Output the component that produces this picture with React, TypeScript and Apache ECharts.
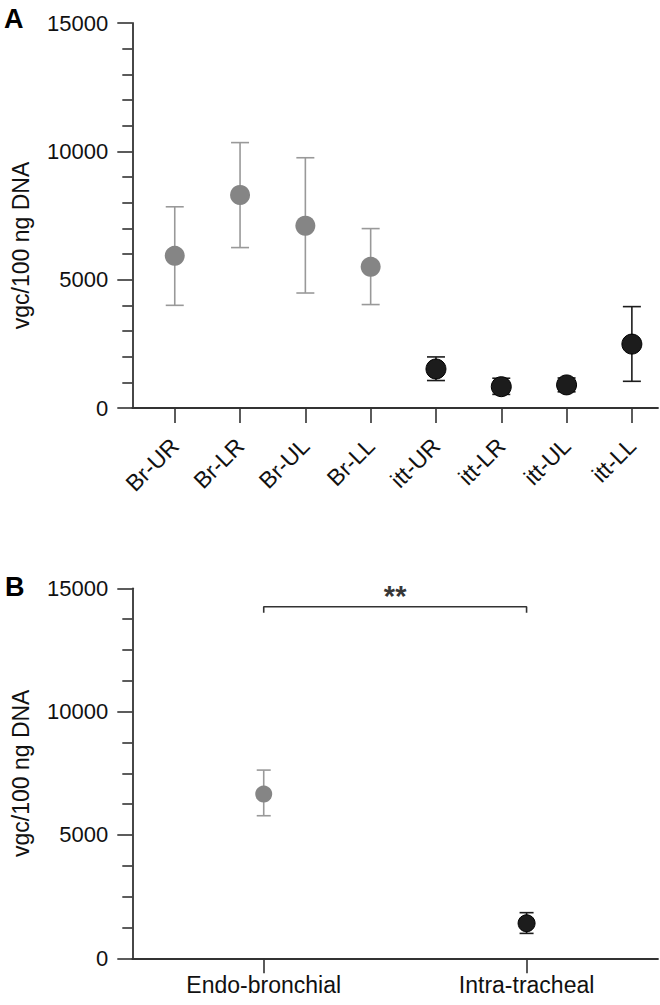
import React, { useEffect, useRef } from "react";
import * as echarts from "echarts";

// ---- Panel A data ----
const catsA = ["Br-UR", "Br-LR", "Br-UL", "Br-LL", "itt-UR", "itt-LR", "itt-UL", "itt-LL"];
const meanA = [5930, 8300, 7100, 5500, 1520, 830, 900, 2490];
const upperA = [7840, 10340, 9750, 6990, 1990, 1160, 1170, 3950];
const lowerA = [4000, 6250, 4480, 4030, 1070, 530, 630, 1040];
const groupA = [0, 0, 0, 0, 1, 1, 1, 1]; // 0 = endo-bronchial (grey), 1 = intra-tracheal (black)

// ---- Panel B data ----
const catsB = ["Endo-bronchial", "Intra-tracheal"];
const meanB = [6660, 1420];
const upperB = [7630, 1850];
const lowerB = [5780, 1010];
const groupB = [0, 1];

// significance bracket (panel B)
const bracketTop = 14250;
const bracketFoot = 14010;
const starsY = 14670;
const starsText = "**";

const yTicksMajor = [0, 5000, 10000, 15000];

const FONT = "'Liberation Sans', Arial, Helvetica, sans-serif";
const TXT = "#111111";
const AXIS = "#333333";
const markerFill = ["#858585", "#1c1c1c"];
const markerBorder = ["#858585", "#000000"];
const barColor = ["#999999", "#1c1c1c"];

function errSeries(gridIdx: number, xs: number[], lo: number[], hi: number[], groups: number[], capW: number) {
  return {
    type: "custom",
    xAxisIndex: gridIdx,
    yAxisIndex: gridIdx,
    z: 2,
    data: xs.map((x, i) => [x, hi[i], lo[i], groups[i]]),
    renderItem: (params: any, api: any) => {
      const x = api.value(0);
      const h = api.value(1);
      const l = api.value(2);
      const g = api.value(3);
      const pH = api.coord([x, h]);
      const pL = api.coord([x, l]);
      const hw = capW / 2;
      const style = { stroke: barColor[g], lineWidth: 1.6 };
      return {
        type: "group",
        children: [
          { type: "line", shape: { x1: pH[0], y1: pH[1], x2: pL[0], y2: pL[1] }, style },
          { type: "line", shape: { x1: pH[0] - hw, y1: pH[1], x2: pH[0] + hw, y2: pH[1] }, style },
          { type: "line", shape: { x1: pL[0] - hw, y1: pL[1], x2: pL[0] + hw, y2: pL[1] }, style },
        ],
      };
    },
  };
}

function pointSeries(gridIdx: number, xs: number[], ys: number[], groups: number[], size: number) {
  return {
    type: "scatter",
    xAxisIndex: gridIdx,
    yAxisIndex: gridIdx,
    z: 3,
    symbol: "circle",
    symbolSize: size,
    data: xs.map((x, i) => ({
      value: [x, ys[i]],
      itemStyle: {
        color: markerFill[groups[i]],
        borderColor: markerBorder[groups[i]],
        borderWidth: groups[i] ? 1 : 0,
        opacity: 1,
      },
    })),
  };
}

function yAxisCfg(gridIdx: number, minorSplit: number, namePad: number[]) {
  return {
    type: "value",
    gridIndex: gridIdx,
    min: 0,
    max: 15000,
    interval: 5000,
    name: "vgc/100 ng DNA",
    nameLocation: "middle",
    nameGap: 100,
    nameTextStyle: { fontFamily: FONT, fontSize: 23, color: TXT, padding: namePad },
    axisLine: { show: true, lineStyle: { color: AXIS, width: 1.8 } },
    axisTick: { show: true, length: 15, lineStyle: { color: AXIS, width: 1.6 } },
    minorTick: { show: true, splitNumber: minorSplit, length: 10, lineStyle: { color: AXIS, width: 1.6 } },
    splitLine: { show: false },
    minorSplitLine: { show: false },
    axisLabel: {
      fontFamily: FONT,
      fontSize: 22,
      color: TXT,
      margin: 24,
      customValues: yTicksMajor,
      formatter: (v: number) => String(v),
    },
  };
}

export default function App() {
  const ref = useRef<HTMLDivElement>(null);
  useEffect(() => {
    if (!ref.current) return;
    const chart = echarts.init(ref.current, null, { renderer: "svg" });
    const xsA = catsA.map((_, i) => i + 1);
    const xsB = catsB.map((_, i) => i + 1);
    chart.setOption({
      animation: false,
      backgroundColor: "#ffffff",
      textStyle: { fontFamily: FONT },
      grid: [
        { left: 132.3, right: 2, top: 23, height: 385 },
        { left: 132.3, right: 2, top: 588.3, height: 370 },
      ],
      xAxis: [
        {
          type: "value",
          gridIndex: 0,
          min: 0.35,
          max: 8.4,
          axisLine: { show: true, onZero: false, lineStyle: { color: AXIS, width: 1.8 } },
          axisTick: { show: true, length: 15, customValues: xsA, lineStyle: { color: AXIS, width: 1.6 } },
          splitLine: { show: false },
          axisLabel: {
            customValues: xsA,
            rotate: 45,
            margin: 34,
            fontFamily: FONT,
            fontSize: 23,
            color: TXT,
            formatter: (v: number) => catsA[Math.round(v) - 1] ?? "",
          },
        },
        {
          type: "value",
          gridIndex: 1,
          min: 0.5,
          max: 2.5,
          axisLine: { show: true, onZero: false, lineStyle: { color: AXIS, width: 1.8 } },
          axisTick: { show: true, length: 15, customValues: xsB, lineStyle: { color: AXIS, width: 1.6 } },
          splitLine: { show: false },
          axisLabel: {
            customValues: xsB,
            margin: 15,
            fontFamily: FONT,
            fontSize: 23,
            color: TXT,
            formatter: (v: number) => catsB[Math.round(v) - 1] ?? "",
          },
        },
      ],
      yAxis: [yAxisCfg(0, 5, [0, 60, 0, 0]), yAxisCfg(1, 4, [0, 0, 0, 0])],
      series: [
        errSeries(0, xsA, lowerA, upperA, groupA, 18),
        pointSeries(0, xsA, meanA, groupA, 20),
        errSeries(1, xsB, lowerB, upperB, groupB, 14),
        pointSeries(1, xsB, meanB, groupB, 17),
        {
          type: "line",
          xAxisIndex: 1,
          yAxisIndex: 1,
          symbol: "none",
          lineStyle: { color: AXIS, width: 1.6 },
          data: [
            [xsB[0], bracketFoot],
            [xsB[0], bracketTop],
            [xsB[1], bracketTop],
            [xsB[1], bracketFoot],
          ],
        },
        {
          type: "scatter",
          xAxisIndex: 1,
          yAxisIndex: 1,
          symbolSize: 0,
          data: [[(xsB[0] + xsB[1]) / 2, starsY]],
          label: {
            show: true,
            position: "inside",
            formatter: starsText,
            fontFamily: FONT,
            fontSize: 29,
            fontWeight: "bold",
            color: "#000",
          },
        },
      ],
      graphic: [
        { type: "text", x: 4, y: 5, style: { text: "A", fontFamily: FONT, fontSize: 27, fontWeight: "bold", fill: "#000" } },
        { type: "text", x: 5, y: 573, style: { text: "B", fontFamily: FONT, fontSize: 27, fontWeight: "bold", fill: "#000" } },
      ],
    });
    return () => chart.dispose();
  }, []);
  return <div ref={ref} style={{ position: "fixed", left: 0, top: 0, width: 660, height: 1005, background: "#fff" }} />;
}
